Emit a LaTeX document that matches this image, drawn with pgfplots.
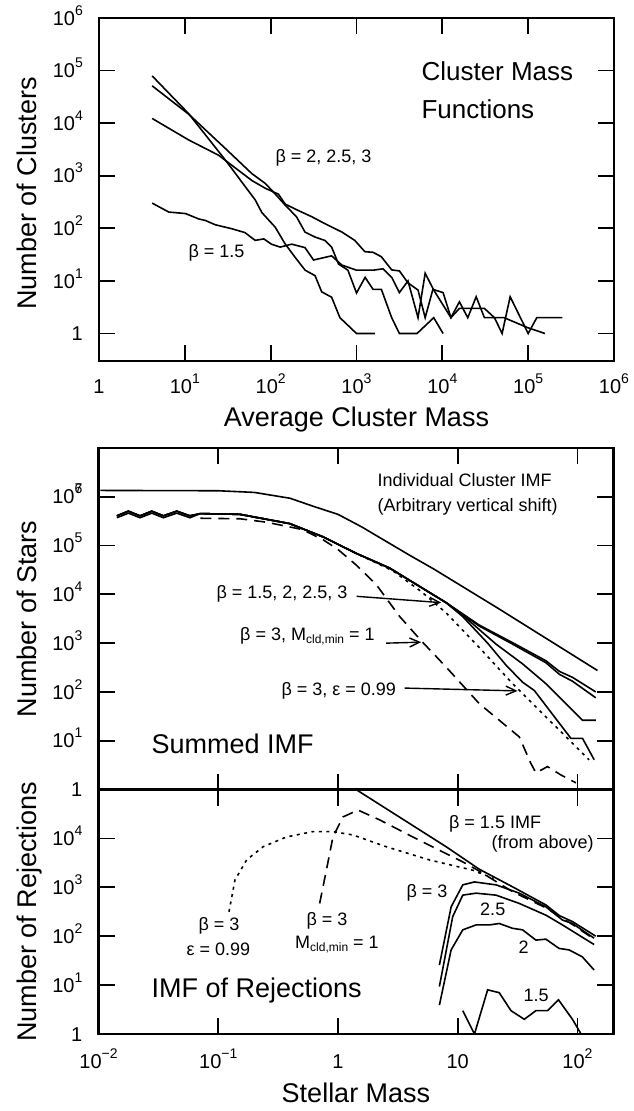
\documentclass[border=0pt]{standalone}
\usepackage{fontspec}
\setmainfont{Liberation Sans}
\usepackage{pgfplots}
\pgfplotsset{compat=1.18}
\usetikzlibrary{arrows.meta}
\newcommand{\tsup}[1]{\raisebox{10pt}{\fontsize{14}{14}\selectfont #1}}
\newcommand{\ssub}[1]{\raisebox{-3.5pt}{\fontsize{12}{12}\selectfont #1}}
\newcommand{\fbig}{\fontsize{27}{32}\selectfont}
\newcommand{\fann}{\fontsize{18}{22}\selectfont}
\pgfplotsset{mypanel/.style={
  scale only axis, width=515pt,
  axis line style={line width=2.2pt},
  every tick/.append style={line width=1.8pt, black},
  major tick length=16pt,
  xtick align=inside, ytick align=inside,
  xminorticks=false, yminorticks=false,
  tick label style={font=\fontsize{20}{24}\selectfont, inner sep=0pt},
  yticklabel style={anchor=base east, xshift=-16pt, yshift=-7.2pt},
  xticklabel style={anchor=base, yshift=-32pt},
  cycle list={{black, solid}},
  unbounded coords=jump,
  every axis plot/.append style={line width=1.6pt, black, no markers},
}}
\tikzset{sol/.style={black, solid}, dsh/.style={black, dash pattern=on 11pt off 7pt}, dot/.style={black, dash pattern=on 3pt off 4.5pt}, tk/.style={black, solid, line width=1.8pt}}
\begin{document}
\begin{tikzpicture}
\useasboundingbox (0,0) rectangle (633pt,-1111pt);
% ---------------- top panel
\begin{axis}[xmode=log, ymode=log, mypanel, at={(99pt,-361pt)}, anchor=south west, height=343pt,
  xmin=1, xmax=1e6, ymin=0.3, ymax=1e6,
  xtick={1,10,100,1000,10000,100000,1000000},
  xticklabels={1,10\tsup{1},10\tsup{2},10\tsup{3},10\tsup{4},10\tsup{5},10\tsup{6}},
  ytick={1,10,100,1000,10000,100000,1000000},
  yticklabels={1,10\tsup{1},10\tsup{2},10\tsup{3},10\tsup{4},10\tsup{5},10\tsup{6}}]
% tick marks (inward, 16 px)
\addplot[tk] coordinates {(10,0.3)(10,0.6045)(nan,nan)(100,0.3)(100,0.6045)(nan,nan)(1000,0.3)(1000,0.6045)(nan,nan)(10000,0.3)(10000,0.6045)(nan,nan)(100000,0.3)(100000,0.6045)};
\addplot[tk] coordinates {(10,1e6)(10,4.963e5)(nan,nan)(100,1e6)(100,4.963e5)(nan,nan)(1000,1e6)(1000,4.963e5)(nan,nan)(10000,1e6)(10000,4.963e5)(nan,nan)(100000,1e6)(100000,4.963e5)};
\addplot[tk] coordinates {(1,1)(1.536,1)(nan,nan)(1,10)(1.536,10)(nan,nan)(1,100)(1.536,100)(nan,nan)(1,1000)(1.536,1000)(nan,nan)(1,1e4)(1.536,1e4)(nan,nan)(1,1e5)(1.536,1e5)};
\addplot[tk] coordinates {(1e6,1)(6.51e5,1)(nan,nan)(1e6,10)(6.51e5,10)(nan,nan)(1e6,100)(6.51e5,100)(nan,nan)(1e6,1000)(6.51e5,1000)(nan,nan)(1e6,1e4)(6.51e5,1e4)(nan,nan)(1e6,1e5)(6.51e5,1e5)};
% data
\addplot[sol] coordinates {(4.16,79400)(11.1,15100)(29.6,2000)(66.1,347)(78.9,200)(113,105)(147,51)(193,28)(252,16)(329,12.6)(393,6.2)(513,4.9)(641,2.0)(1000,1)(1640,1)};
\addplot[sol] coordinates {(4.16,51300)(11.1,14800)(29.6,3310)(60.3,1100)(87.1,708)(112,457)(148,275)(200,166)(251,85)(331,68)(427,59)(513,44)(617,21)(794,16)(1000,5.9)(1260,11.7)(1560,6.9)(1950,6.9)(2570,2)(3160,1)(5070,1)(7940,2)(10200,1)};
\addplot[sol] coordinates {(4.16,12300)(11.1,4790)(24.8,2450)(60.3,813)(87.1,575)(123,447)(148,288)(209,219)(302,166)(427,123)(676,85)(955,59)(1250,36)(1560,35)(1950,28.8)(2570,16.2)(3160,15.5)(3980,9.2)(5210,6.7)(6310,2)(7760,6.9)(10200,6)(12600,2)(15800,3)(30900,3)(40500,2)(52500,2)(97700,1.3)(157000,1)};
\addplot[sol] coordinates {(4.16,302)(6.5,204)(10.2,191)(14.5,151)(17.4,141)(22.6,117)(35.5,98)(50.1,83)(66.1,59)(83.2,63)(102,50)(129,44)(176,50)(251,43)(316,25)(427,28)(513,30)(676,20)(1000,16)(1560,16)(2040,17)(2570,11.7)(3160,6)(3980,10)(5210,2)(6310,14)(7940,6.7)(12600,2)(15800,4)(19800,2)(24800,5)(30900,2)(40500,2)(49700,1)(61700,5)(100000,1)(126000,2)(251000,2)};
\end{axis}
% ---------------- middle panel
\begin{axis}[xmode=log, ymode=log, mypanel, at={(98.5pt,-789.5pt)}, anchor=south west, height=341.5pt,
  xmin=0.01, xmax=200, ymin=1, ymax=1e7,
  xtick={0.01,0.1,1,10,100}, xticklabels={,,,,},
  ytick={1,10,100,1000,10000,100000,1000000},
  yticklabels={1,10\tsup{1},10\tsup{2},10\tsup{3},10\tsup{4},10\tsup{5},10\tsup{\rlap{6}7}}]
\addplot[tk] coordinates {(0.1,1)(0.1,2.127)(nan,nan)(1,1)(1,2.127)(nan,nan)(10,1)(10,2.127)(nan,nan)(100,1)(100,2.127)};
\addplot[tk] coordinates {(0.1,1e7)(0.1,4.70e6)(nan,nan)(1,1e7)(1,4.70e6)(nan,nan)(10,1e7)(10,4.70e6)(nan,nan)(100,1e7)(100,4.70e6)};
\addplot[tk] coordinates {(0.01,10)(0.01362,10)(nan,nan)(0.01,100)(0.01362,100)(nan,nan)(0.01,1000)(0.01362,1000)(nan,nan)(0.01,1e4)(0.01362,1e4)(nan,nan)(0.01,1e5)(0.01362,1e5)(nan,nan)(0.01,1e6)(0.01362,1e6)};
\addplot[tk] coordinates {(200,10)(146.8,10)(nan,nan)(200,100)(146.8,100)(nan,nan)(200,1000)(146.8,1000)(nan,nan)(200,1e4)(146.8,1e4)(nan,nan)(200,1e5)(146.8,1e5)(nan,nan)(200,1e6)(146.8,1e6)};
\addplot[sol] coordinates {(0.01035,1.35e6)(0.1,1.33e6)(0.2,1.23e6)(0.398,9.33e5)(0.631,6.31e5)(1,4.37e5)(1.585,2.40e5)(2.51,1.23e5)(3.98,6.31e4)(6.31,3.31e4)(22.2,5.01e3)(147,275)};
\addplot[sol] coordinates {(0.01422,4.07e5)(0.01778,5.07e5)(0.02223,4.07e5)(0.02786,5.07e5)(0.03483,4.07e5)(0.04498,5.07e5)(0.05808,4.07e5)(0.07079,4.52e5)(0.1514,4.37e5)(0.3954,2.82e5)(0.7499,1.51e5)(1.422,6.92e4)(2.692,3.47e4)(8.0,6760)(15.14,2344)(28.71,1023)(54.45,436.5)(70.79,263)(90.78,199.5)(142.2,100)};
\addplot[sol] coordinates {(0.01422,3.72e5)(0.01778,4.62e5)(0.02223,3.72e5)(0.02786,4.62e5)(0.03483,3.72e5)(0.04498,4.62e5)(0.05808,3.72e5)(0.07079,4.52e5)(0.1514,4.37e5)(0.3954,2.82e5)(0.7499,1.51e5)(1.422,6.92e4)(2.692,3.47e4)(8.0,6760)(15.14,2239)(28.71,955)(54.45,398)(70.79,229)(90.78,166)(142.2,75.9)};
\addplot[sol] coordinates {(0.01422,4.07e5)(0.01778,5.07e5)(0.02223,4.07e5)(0.02786,5.07e5)(0.03483,4.07e5)(0.04498,5.07e5)(0.05808,4.07e5)(0.07079,4.52e5)(0.1514,4.37e5)(0.3954,2.82e5)(0.7499,1.51e5)(1.422,6.92e4)(2.692,3.47e4)(8.0,6760)(12.59,2818)(20.89,955)(34.83,376)(54.45,148)(110.2,26.3)(142.2,26.3)};
\addplot[sol] coordinates {(0.01422,4.07e5)(0.01778,5.07e5)(0.02223,4.07e5)(0.02786,5.07e5)(0.03483,4.07e5)(0.04498,5.07e5)(0.05808,4.07e5)(0.07079,4.52e5)(0.1514,4.37e5)(0.3954,2.82e5)(0.7499,1.51e5)(1.422,6.92e4)(2.692,3.47e4)(8.0,6760)(10.96,3548)(17.78,1000)(25.29,355)(34.83,158)(43.65,107)(88.1,11.2)(110.2,11.2)(138,4.07)};
\addplot[dot] coordinates {(0.1514,4.37e5)(0.3954,2.82e5)(0.7499,1.51e5)(1.422,6.92e4)(2.884,3.02e4)(5.01,1.12e4)(8.0,4169)(15.14,813)(28.71,148)(54.45,30.9)(85.1,10.5)(125,4.07)};
\addplot[dsh] coordinates {(0.07079,3.63e5)(0.1514,3.55e5)(0.2512,3.02e5)(0.5012,2.14e5)(0.7499,1.32e5)(1.0,8.32e4)(1.422,3.98e4)(2.089,1.585e4)(3.266,3548)(4.955,1122)(8.0,324)(15.14,57.5)(32.66,12.0)(40.74,3.47)(44.98,2.19)(56.23,2.95)(72.44,2.0)(97.05,1.37)};
\draw[line width=1.4pt, -{Straight Barb[length=10pt,width=9pt]}] (axis cs:1.432,9120) -- (axis cs:7.28,6761);
\draw[line width=1.4pt, -{Straight Barb[length=10pt,width=9pt]}] (axis cs:2.529,1000) -- (axis cs:4.955,1047);
\draw[line width=1.4pt, -{Straight Barb[length=10pt,width=9pt]}] (axis cs:3.597,120) -- (axis cs:31.6,105);
\end{axis}
% ---------------- bottom panel
\begin{axis}[xmode=log, ymode=log, mypanel, at={(98.5pt,-1034pt)}, anchor=south west, height=244.5pt,
  xmin=0.01, xmax=200, ymin=1, ymax=1e5,
  xtick={0.01,0.1,1,10,100},
  xticklabels={10\tsup{−2},10\tsup{−1},1,10,10\tsup{2}},
  xticklabel style={yshift=-2pt},
  ytick={1,10,100,1000,10000,100000},
  yticklabels={1,10\tsup{1},10\tsup{2},10\tsup{3},10\tsup{4},}]
\addplot[tk] coordinates {(0.1,1)(0.1,2.125)(nan,nan)(1,1)(1,2.125)(nan,nan)(10,1)(10,2.125)(nan,nan)(100,1)(100,2.125)};
\addplot[tk] coordinates {(0.1,1e5)(0.1,4.706e4)(nan,nan)(1,1e5)(1,4.706e4)(nan,nan)(10,1e5)(10,4.706e4)(nan,nan)(100,1e5)(100,4.706e4)};
\addplot[tk] coordinates {(0.01,10)(0.01362,10)(nan,nan)(0.01,100)(0.01362,100)(nan,nan)(0.01,1000)(0.01362,1000)(nan,nan)(0.01,1e4)(0.01362,1e4)};
\addplot[tk] coordinates {(200,10)(146.8,10)(nan,nan)(200,100)(146.8,100)(nan,nan)(200,1000)(146.8,1000)(nan,nan)(200,1e4)(146.8,1e4)};
\addplot[sol] coordinates {(1.259,1.2e5)(8.0,6760)(15.14,2344)(28.71,1023)(54.45,436.5)(70.79,263)(90.78,199.5)(142.2,100)};
\addplot[dsh] coordinates {(0.7031,468)(0.80,2239)(0.9078,1.07e4)(1.102,2.75e4)(1.469,3.80e4)(2.223,2.40e4)(4.217,1.07e4)(11.02,3311)(14.69,2239)(28.71,813)(54.58,380)(90.78,174)(137.7,87)};
\addplot[dot] coordinates {(0.123,316)(0.138,1413)(0.1726,3631)(0.2371,6761)(0.3715,1.07e4)(0.6194,1.38e4)(0.9078,1.38e4)(1.334,1.175e4)(2.529,6761)(5.808,3631)(13.34,2239)(19.95,1514)};
\addplot[sol] coordinates {(7.03,25.7)(8.81,398)(11.02,1122)(13.8,1288)(20.89,1122)(32.66,759)(54.58,398)(75.0,214)(90.78,182)(137.7,91.2)};
\addplot[sol] coordinates {(7.03,9.33)(9.08,251)(11.02,692)(14.22,759)(20.89,692)(32.66,468)(54.58,269)(75.0,170)(137.7,67.6)};
\addplot[sol] coordinates {(7.03,3.89)(8.81,52.5)(11.02,135)(14.22,170)(18.37,170)(22.23,182)(28.71,145)(34.83,135)(44.98,83.2)(54.45,87.1)(70.31,56.2)(85.11,52.5)(109.6,38.0)(137.7,20.4)};
\addplot[sol] coordinates {(11.02,3)(13.8,1)(17.78,8)(22.23,7)(27.86,3)(35.97,2)(44.98,3)(56.23,3)(69.5,5)(90.78,2)(107.2,1)};
\end{axis}
% ---------------- labels
\node[font=\fbig, anchor=base] at (356.5pt,-426pt) {Average Cluster Mass};
\node[font=\fbig, anchor=base] at (356pt,-1102pt) {Stellar Mass};
\node[font=\fbig, anchor=base, rotate=90] at (36.5pt,-193.5pt) {Number of Clusters};
\node[font=\fbig, anchor=base, rotate=90] at (36.5pt,-619pt) {Number of Stars};
\node[font=\fbig, anchor=base, rotate=90] at (36.5pt,-912pt) {Number of Rejections};
\node[font=\fontsize{26}{30}\selectfont, anchor=base west] at (418pt,-80pt) {Cluster Mass};
\node[font=\fontsize{26}{30}\selectfont, anchor=base west] at (418pt,-118pt) {Functions};
\node[font=\fann, anchor=base west] at (272pt,-162pt) {β = 2, 2.5, 3};
\node[font=\fann, anchor=base west] at (185pt,-257pt) {β = 1.5};
\node[font=\fann, anchor=base west] at (374pt,-486pt) {Individual Cluster IMF};
\node[font=\fann, anchor=base west] at (374pt,-511pt) {(Arbitrary vertical shift)};
\node[font=\fbig, anchor=base west] at (148pt,-753pt) {Summed IMF};
\node[font=\fann, anchor=base west] at (213pt,-598pt) {β = 1.5, 2, 2.5, 3};
\node[font=\fann, anchor=base west] at (236.7pt,-640pt) {β = 3, M\ssub{cld,min} = 1};
\node[font=\fann, anchor=base west] at (278pt,-695pt) {β = 3, ε = 0.99};
\node[font=\fbig, anchor=base west] at (148pt,-997pt) {IMF of Rejections};
\node[font=\fann, anchor=base west] at (445.6pt,-828pt) {β = 1.5 IMF};
\node[font=\fann, anchor=base west] at (488pt,-848pt) {(from above)};
\node[font=\fann, anchor=base west] at (403pt,-897pt) {β = 3};
\node[font=\fann, anchor=base west] at (476.7pt,-915pt) {2.5};
\node[font=\fann, anchor=base west] at (515pt,-953pt) {2};
\node[font=\fann, anchor=base west] at (520pt,-1001.7pt) {1.5};
\node[font=\fann, anchor=base west] at (195pt,-930pt) {β = 3};
\node[font=\fann, anchor=base west] at (183pt,-955pt) {ε = 0.99};
\node[font=\fann, anchor=base west] at (303pt,-925pt) {β = 3};
\node[font=\fann, anchor=base west] at (291.7pt,-948pt) {M\ssub{cld,min} = 1};
\end{tikzpicture}
\end{document}
